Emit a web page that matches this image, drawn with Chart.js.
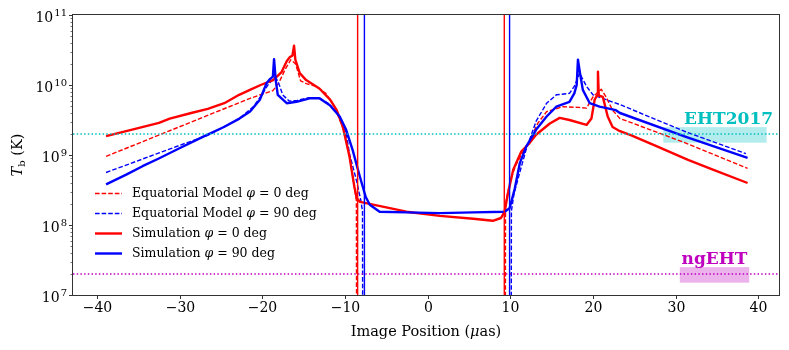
<!DOCTYPE html>
<html>
<head>
<meta charset="utf-8">
<script src="https://cdn.jsdelivr.net/npm/chart.js@4.4.0/dist/chart.umd.min.js"></script>
<style>
  html, body { margin: 0; padding: 0; background: #fff; }
  #wrap { width: 789px; height: 350px; }
</style>
</head>
<body>
<div id="wrap"><canvas id="chart" width="789" height="350"></canvas></div>
<script>
/* ── Data: x in μas, values as log10(T_b / K) ── */
const simPhi0X   = [-38.9, -35.5, -32.5, -31.2, -28.6, -26.6, -24.6, -22.8, -21.5, -20.2, -18.7, -17.7, -17.05, -16.66, -16.36, -16.16, -16.0, -15.47, -14.7, -13.1, -11.8, -11.0, -10.25, -9.46, -8.87, -8.57, -8.18, -6.6, -2.56, 1.48, 5.52, 7.88, 8.87, 9.31, 9.71, 10.35, 11.33, 12.32, 13.11, 14.78, 15.97, 17.15, 19.22, 19.81, 20.2, 20.5, 20.6, 20.7, 21.19, 21.78, 22.37, 23.26, 24.64, 27.6, 31.5, 34.5, 38.7];
const simPhi0Log = [9.27, 9.37, 9.46, 9.52, 9.60, 9.66, 9.74, 9.86, 9.93, 10.00, 10.07, 10.18, 10.34, 10.40, 10.42, 10.56, 10.36, 10.17, 10.07, 9.95, 9.79, 9.64, 9.40, 8.98, 8.55, 8.38, 8.33, 8.29, 8.19, 8.13, 8.09, 8.06, 8.10, 8.19, 8.45, 8.79, 9.05, 9.17, 9.29, 9.45, 9.53, 9.50, 9.43, 9.52, 9.79, 9.85, 10.19, 9.85, 9.83, 9.55, 9.40, 9.34, 9.28, 9.13, 8.93, 8.79, 8.60];

const simPhi90X   = [-38.9, -36.46, -34.49, -32.52, -29.96, -27.2, -24.64, -22.77, -21.48, -20.3, -19.51, -19.12, -18.72, -18.58, -18.38, -18.13, -17.05, -15.87, -14.29, -13.11, -11.83, -10.64, -9.86, -9.07, -8.43, -7.98, -7.49, -7.0, -5.81, -2.56, 1.48, 5.52, 9.31, 9.91, 10.54, 11.14, 11.92, 13.11, 14.39, 15.57, 17.15, 17.74, 18.03, 18.18, 18.43, 18.77, 19.61, 20.79, 22.77, 23.26, 31.24, 38.7];
const simPhi90Log = [8.58, 8.72, 8.84, 8.95, 9.10, 9.26, 9.40, 9.52, 9.62, 9.79, 10.02, 10.08, 10.12, 10.37, 10.07, 9.86, 9.74, 9.76, 9.81, 9.81, 9.71, 9.55, 9.36, 9.07, 8.79, 8.60, 8.40, 8.29, 8.19, 8.18, 8.17, 8.18, 8.19, 8.24, 8.52, 8.88, 9.12, 9.36, 9.55, 9.69, 9.76, 9.88, 10.00, 10.36, 10.17, 9.93, 9.74, 9.69, 9.64, 9.60, 9.26, 8.96];

// model curves drop to zero inside the shadow (null = gap, 5 = far below the axis)
const modPhi0X   = [-38.9, -21.48, -18.72, -18.0, -17.25, -16.56, -15.97, -15.37, -14.68, -13.5, -12.32, -11.33, -10.35, -9.56, -8.97, -8.62, -8.58, 0, 9.38, 9.42, 9.95, 10.64, 11.33, 12.32, 13.3, 14.39, 16.36, 18.23, 19.22, 20.0, 20.99, 21.58, 22.37, 23.26, 24.44, 31.24, 38.7];
const modPhi0Log = [8.98, 9.81, 9.92, 10.03, 10.22, 10.36, 10.30, 10.06, 10.02, 9.98, 9.88, 9.70, 9.42, 9.05, 8.62, 8.35, 5, null, 5, 8.30, 8.62, 8.85, 9.00, 9.20, 9.45, 9.62, 9.69, 9.68, 9.67, 9.83, 9.94, 9.83, 9.64, 9.52, 9.47, 9.17, 8.81];

const modPhi90X   = [-38.9, -29.96, -26.61, -22.77, -21.09, -20.1, -19.32, -18.72, -18.33, -17.94, -17.54, -16.75, -15.77, -14.29, -13.11, -11.83, -10.64, -9.86, -9.46, -8.62, -8.08, -7.88, -7.84, 0, 10.1, 10.13, 10.45, 11.14, 11.92, 13.11, 14.39, 15.57, 17.15, 17.74, 18.38, 19.22, 20.0, 21.58, 23.26, 31.24, 38.5];
const modPhi90Log = [8.75, 9.14, 9.28, 9.52, 9.69, 9.85, 10.00, 10.08, 10.10, 10.00, 9.86, 9.77, 9.78, 9.82, 9.82, 9.72, 9.55, 9.32, 9.02, 8.64, 8.35, 8.20, 5, null, 5, 8.20, 8.45, 8.75, 9.08, 9.48, 9.74, 9.86, 9.88, 9.98, 10.17, 9.98, 9.86, 9.79, 9.72, 9.33, 9.02];

// shadow edges (full-height vertical lines)
const shadowEdgeX      = [-8.47, -7.65, 9.27, 9.91];
const shadowEdgeColors = ['#ff0000', '#0000ff', '#ff0000', '#0000ff'];

// sensitivity levels and their marker boxes
const ehtLevel   = 2e9;
const ngehtLevel = 2e7;
const ehtBoxX    = [28.5, 41.0];
const ehtBoxY    = [1.5e9, 2.5e9];
const ngehtBoxX  = [30.5, 38.9];
const ngehtBoxY  = [1.5e7, 2.5e7];

// axes
const xMin = -42.9, xMax = 42.5;
const yMin = 1e7,   yMax = 1e11;
const xTicks = [-40, -30, -20, -10, 0, 10, 20, 30, 40];
const yMajorExp = [7, 8, 9, 10, 11];

const SERIF = '"DejaVu Serif", serif';

function toPoints(xs, logs) {
  return xs.map((x, i) => ({ x, y: logs[i] === null ? null : Math.pow(10, logs[i]) }));
}

const datasets = [
  { label: 'Equatorial Model φ = 0 deg', data: toPoints(modPhi0X, modPhi0Log),
    borderColor: '#ff0000', borderWidth: 1.4, borderDash: [4.6, 2], order: 4 },
  { label: 'Equatorial Model φ = 90 deg', data: toPoints(modPhi90X, modPhi90Log),
    borderColor: '#0000ff', borderWidth: 1.4, borderDash: [4.6, 2], order: 3 },
  { label: 'Simulation φ = 0 deg', data: toPoints(simPhi0X, simPhi0Log),
    borderColor: '#ff0000', borderWidth: 2.4, order: 2 },
  { label: 'Simulation φ = 90 deg', data: toPoints(simPhi90X, simPhi90Log),
    borderColor: '#0000ff', borderWidth: 2.4, order: 1 },
];
const LEGEND_COUNT = datasets.length;

shadowEdgeX.forEach((x, i) => datasets.push({
  label: '', data: [{ x, y: yMin }, { x, y: yMax }],
  borderColor: shadowEdgeColors[i], borderWidth: 1.4, order: 0,
}));
datasets.push({ label: '', data: [{ x: xMin, y: ehtLevel }, { x: xMax, y: ehtLevel }],
  borderColor: '#00bfbf', borderWidth: 1.5, borderDash: [1.5, 2.2], order: 0 });
datasets.push({ label: '', data: [{ x: xMin, y: ngehtLevel }, { x: xMax, y: ngehtLevel }],
  borderColor: '#bf00bf', borderWidth: 1.5, borderDash: [1.5, 2.2], order: 0 });

/* ── boxes + annotation text ─────────────────────────────────── */
const boxesPlugin = {
  id: 'boxes',
  beforeDatasetsDraw(chart) {
    const { ctx, scales: { x, y } } = chart;
    ctx.save();
    [[ehtBoxX, ehtBoxY, 'rgba(0,191,191,0.3)'], [ngehtBoxX, ngehtBoxY, 'rgba(191,0,191,0.3)']].forEach(([bx, by, col]) => {
      const x0 = x.getPixelForValue(bx[0]), x1 = x.getPixelForValue(bx[1]);
      const y0 = y.getPixelForValue(by[1]), y1 = y.getPixelForValue(by[0]);
      ctx.fillStyle = col;
      ctx.fillRect(x0, y0, x1 - x0, y1 - y0);
    });
    ctx.restore();
  },
  afterDatasetsDraw(chart) {
    const { ctx, scales: { x, y } } = chart;
    ctx.save();
    ctx.font = 'bold 17px ' + SERIF;
    ctx.textAlign = 'center';
    ctx.textBaseline = 'alphabetic';
    ctx.fillStyle = '#00bfbf';
    ctx.fillText('EHT2017', x.getPixelForValue(36.4), y.getPixelForValue(ehtBoxY[1]) - 3);
    ctx.fillStyle = '#bf00bf';
    ctx.fillText('ngEHT', x.getPixelForValue(34.7), y.getPixelForValue(ngehtBoxY[1]) - 3);
    ctx.restore();
  },
};

/* ── matplotlib-style frame, ticks, tick labels, axis titles ─── */
const axesPlugin = {
  id: 'mplAxes',
  afterDatasetsDraw(chart) {
    const { ctx, chartArea: a, scales: { x, y } } = chart;
    ctx.save();
    ctx.strokeStyle = '#333';
    ctx.lineWidth = 1;
    ctx.strokeRect(a.left - 0.5, a.top - 0.5, a.right - a.left + 1, a.bottom - a.top + 1);

    // x ticks
    ctx.fillStyle = '#000';
    ctx.font = '14px ' + SERIF;
    ctx.textAlign = 'center';
    ctx.textBaseline = 'top';
    xTicks.forEach(t => {
      const px = Math.round(x.getPixelForValue(t)) + 0.5;
      ctx.beginPath(); ctx.moveTo(px, a.bottom); ctx.lineTo(px, a.bottom + 4); ctx.stroke();
      ctx.fillText(t < 0 ? '−' + Math.abs(t) : String(t), px, a.bottom + 6);
    });

    // y ticks: majors with labels, minors 2..9
    ctx.textBaseline = 'alphabetic';
    yMajorExp.forEach(e => {
      const py = Math.round(y.getPixelForValue(Math.pow(10, e))) + 0.5;
      ctx.lineWidth = 1;
      ctx.beginPath(); ctx.moveTo(a.left, py); ctx.lineTo(a.left - 4, py); ctx.stroke();
      ctx.font = '10px ' + SERIF;
      const sup = String(e), wSup = ctx.measureText(sup).width;
      ctx.textAlign = 'right';
      ctx.fillText(sup, a.left - 6, py + 0.5);
      ctx.font = '14px ' + SERIF;
      ctx.fillText('10', a.left - 7 - wSup, py + 6);
      if (e < 11) {
        ctx.lineWidth = 0.7;
        for (let m = 2; m <= 9; m++) {
          const pm = Math.round(y.getPixelForValue(m * Math.pow(10, e))) + 0.5;
          ctx.beginPath(); ctx.moveTo(a.left, pm); ctx.lineTo(a.left - 2.5, pm); ctx.stroke();
        }
      }
    });

    // x title
    ctx.font = '14.5px ' + SERIF;
    ctx.textAlign = 'left';
    const p1 = 'Image Position (', p2 = 'μ', p3 = 'as)';
    const w1 = ctx.measureText(p1).width, w3 = ctx.measureText(p3).width;
    ctx.font = 'italic 14.5px ' + SERIF;
    const w2 = ctx.measureText(p2).width;
    let tx = (a.left + a.right) / 2 - (w1 + w2 + w3) / 2;
    const ty = 336;
    ctx.font = '14.5px ' + SERIF; ctx.fillText(p1, tx, ty); tx += w1;
    ctx.font = 'italic 14.5px ' + SERIF; ctx.fillText(p2, tx, ty); tx += w2;
    ctx.font = '14.5px ' + SERIF; ctx.fillText(p3, tx, ty);

    // y title  T_b (K)
    ctx.translate(17, (a.top + a.bottom) / 2);
    ctx.rotate(-Math.PI / 2);
    ctx.font = 'italic 14.5px ' + SERIF; const wT = ctx.measureText('T').width;
    ctx.font = '10px ' + SERIF; const wb = ctx.measureText('b').width;
    ctx.font = '14.5px ' + SERIF; const wK = ctx.measureText(' (K)').width;
    let lx = -(wT + wb + wK) / 2;
    ctx.font = 'italic 14.5px ' + SERIF; ctx.fillText('T', lx, 5); lx += wT;
    ctx.font = '10px ' + SERIF; ctx.fillText('b', lx, 8); lx += wb;
    ctx.font = '14.5px ' + SERIF; ctx.fillText(' (K)', lx, 5);
    ctx.restore();
  },
};

/* ── legend without frame, italic φ ─────────────────────────── */
const legendPlugin = {
  id: 'mplLegend',
  afterDraw(chart) {
    const { ctx } = chart;
    ctx.save();
    ctx.textBaseline = 'middle';
    ctx.textAlign = 'left';
    ctx.fillStyle = '#000';
    for (let i = 0; i < LEGEND_COUNT; i++) {
      const ds = chart.data.datasets[i];
      const yy = 193.5 + i * 20;
      ctx.strokeStyle = ds.borderColor;
      ctx.lineWidth = ds.borderWidth;
      ctx.setLineDash(ds.borderDash || []);
      ctx.beginPath(); ctx.moveTo(95, yy); ctx.lineTo(122, yy); ctx.stroke();
      ctx.setLineDash([]);
      const [pre, post] = ds.label.split('φ');
      let lx = 132;
      ctx.font = '12.5px ' + SERIF; ctx.fillText(pre, lx, yy); lx += ctx.measureText(pre).width;
      ctx.font = 'italic 12.5px ' + SERIF; ctx.fillText('φ', lx, yy); lx += ctx.measureText('φ').width;
      ctx.font = '12.5px ' + SERIF; ctx.fillText(post, lx, yy);
    }
    ctx.restore();
  },
};

new Chart(document.getElementById('chart'), {
  type: 'line',
  data: { datasets },
  options: {
    responsive: false,
    animation: false,
    devicePixelRatio: 1,
    layout: { padding: { left: 73, top: 15, right: 10, bottom: 55 } },
    plugins: { legend: { display: false }, tooltip: { enabled: false } },
    elements: {
      point: { radius: 0 },
      line: { tension: 0, borderCapStyle: 'butt', borderJoinStyle: 'round' },
    },
    datasets: { line: { clip: 0, spanGaps: false, fill: false } },
    scales: {
      x: { type: 'linear', min: xMin, max: xMax, display: false },
      y: { type: 'logarithmic', min: yMin, max: yMax, display: false },
    },
  },
  plugins: [boxesPlugin, axesPlugin, legendPlugin],
});
</script>
</body>
</html>
